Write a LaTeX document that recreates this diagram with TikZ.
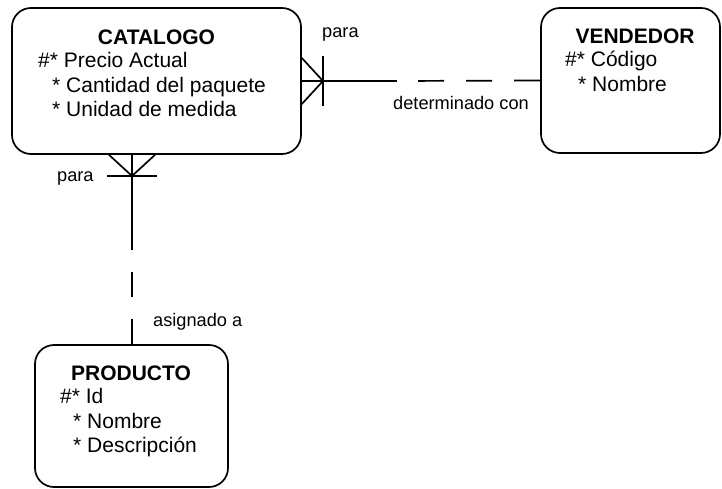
\documentclass[tikz,border=0pt]{standalone}
\usepackage{fontspec}
\setmainfont{Liberation Sans}
\usetikzlibrary{calc}
\tikzset{
  entity/.style={draw=black, line width=1.7pt, rounded corners=19pt, inner sep=0pt, fill=white},
  etitle/.style={anchor=base, inner sep=0pt, font=\fontsize{21}{24}\selectfont\bfseries},
  eattr/.style={anchor=base west, inner sep=0pt, font=\fontsize{21}{24}\selectfont},
  rlabel/.style={anchor=base west, inner sep=0pt, font=\fontsize{18.2}{21}\selectfont},
  conn/.style={draw=black, line width=1.7pt},
  dconn/.style={conn, dash pattern=on 26pt off 22pt},
}
\begin{document}
\begin{tikzpicture}[x=1pt,y=-1pt]
\useasboundingbox (0,0) rectangle (722,489);
% entities
\node[entity, minimum width=289pt, minimum height=146pt] (cat) at (156.5,81) {};
\node[entity, minimum width=179pt, minimum height=145pt] (ven) at (630.5,80.5) {};
\node[entity, minimum width=193pt, minimum height=142pt] (prod) at (131.5,416) {};
% CATALOGO text
\node[etitle] (catT) at (156.5,45) {CATALOGO};
\node[eattr] (catA1) at (38,68) {\#* Precio Actual};
\node[eattr] (catA2) at (52,93) {* Cantidad del paquete};
\node[eattr] (catA3) at (52,117) {* Unidad de medida};
% VENDEDOR text
\node[etitle] (venT) at (635,44) {VENDEDOR};
\node[eattr] (venA1) at (565,67) {\#* Código};
\node[eattr] (venA2) at (578,92) {* Nombre};
% PRODUCTO text
\node[etitle] (prodT) at (131,380) {PRODUCTO};
\node[eattr] (prodA1) at (60,403) {\#* Id};
\node[eattr] (prodA2) at (73,428) {* Nombre};
\node[eattr] (prodA3) at (73,452) {* Descripción};
% relationship CATALOGO - VENDEDOR
\coordinate (cf1) at (323,81);
\coordinate (m1) at (397,81);
\draw[conn] (cat.east) -- (m1);
\draw[dconn] (ven.west) -- (m1);
\draw[conn] ($(cat.east)+(0,-23)$) -- (cf1) -- ($(cat.east)+(0,23)$);
\draw[conn] ($(cf1)+(0,-25)$) -- ($(cf1)+(0,25)$);
\node[rlabel] (l1) at (322,38) {para};
\node[rlabel] (l2) at (393,110) {determinado con};
% relationship CATALOGO - PRODUCTO
\coordinate (cf2) at (132,176);
\coordinate (m2) at (132,250);
\draw[conn] (cf2 |- cat.south) -- (m2);
\draw[conn, dash pattern=on 25pt off 22.5pt] (m2 |- prod.north) -- (m2);
\draw[conn] ($(cf2 |- cat.south)+(-23,0)$) -- (cf2) -- ($(cf2 |- cat.south)+(23,0)$);
\draw[conn] ($(cf2)+(-25,0)$) -- ($(cf2)+(25,0)$);
\node[rlabel] (l3) at (57,182) {para};
\node[rlabel] (l4) at (153,326) {asignado a};
\end{tikzpicture}
\end{document}
